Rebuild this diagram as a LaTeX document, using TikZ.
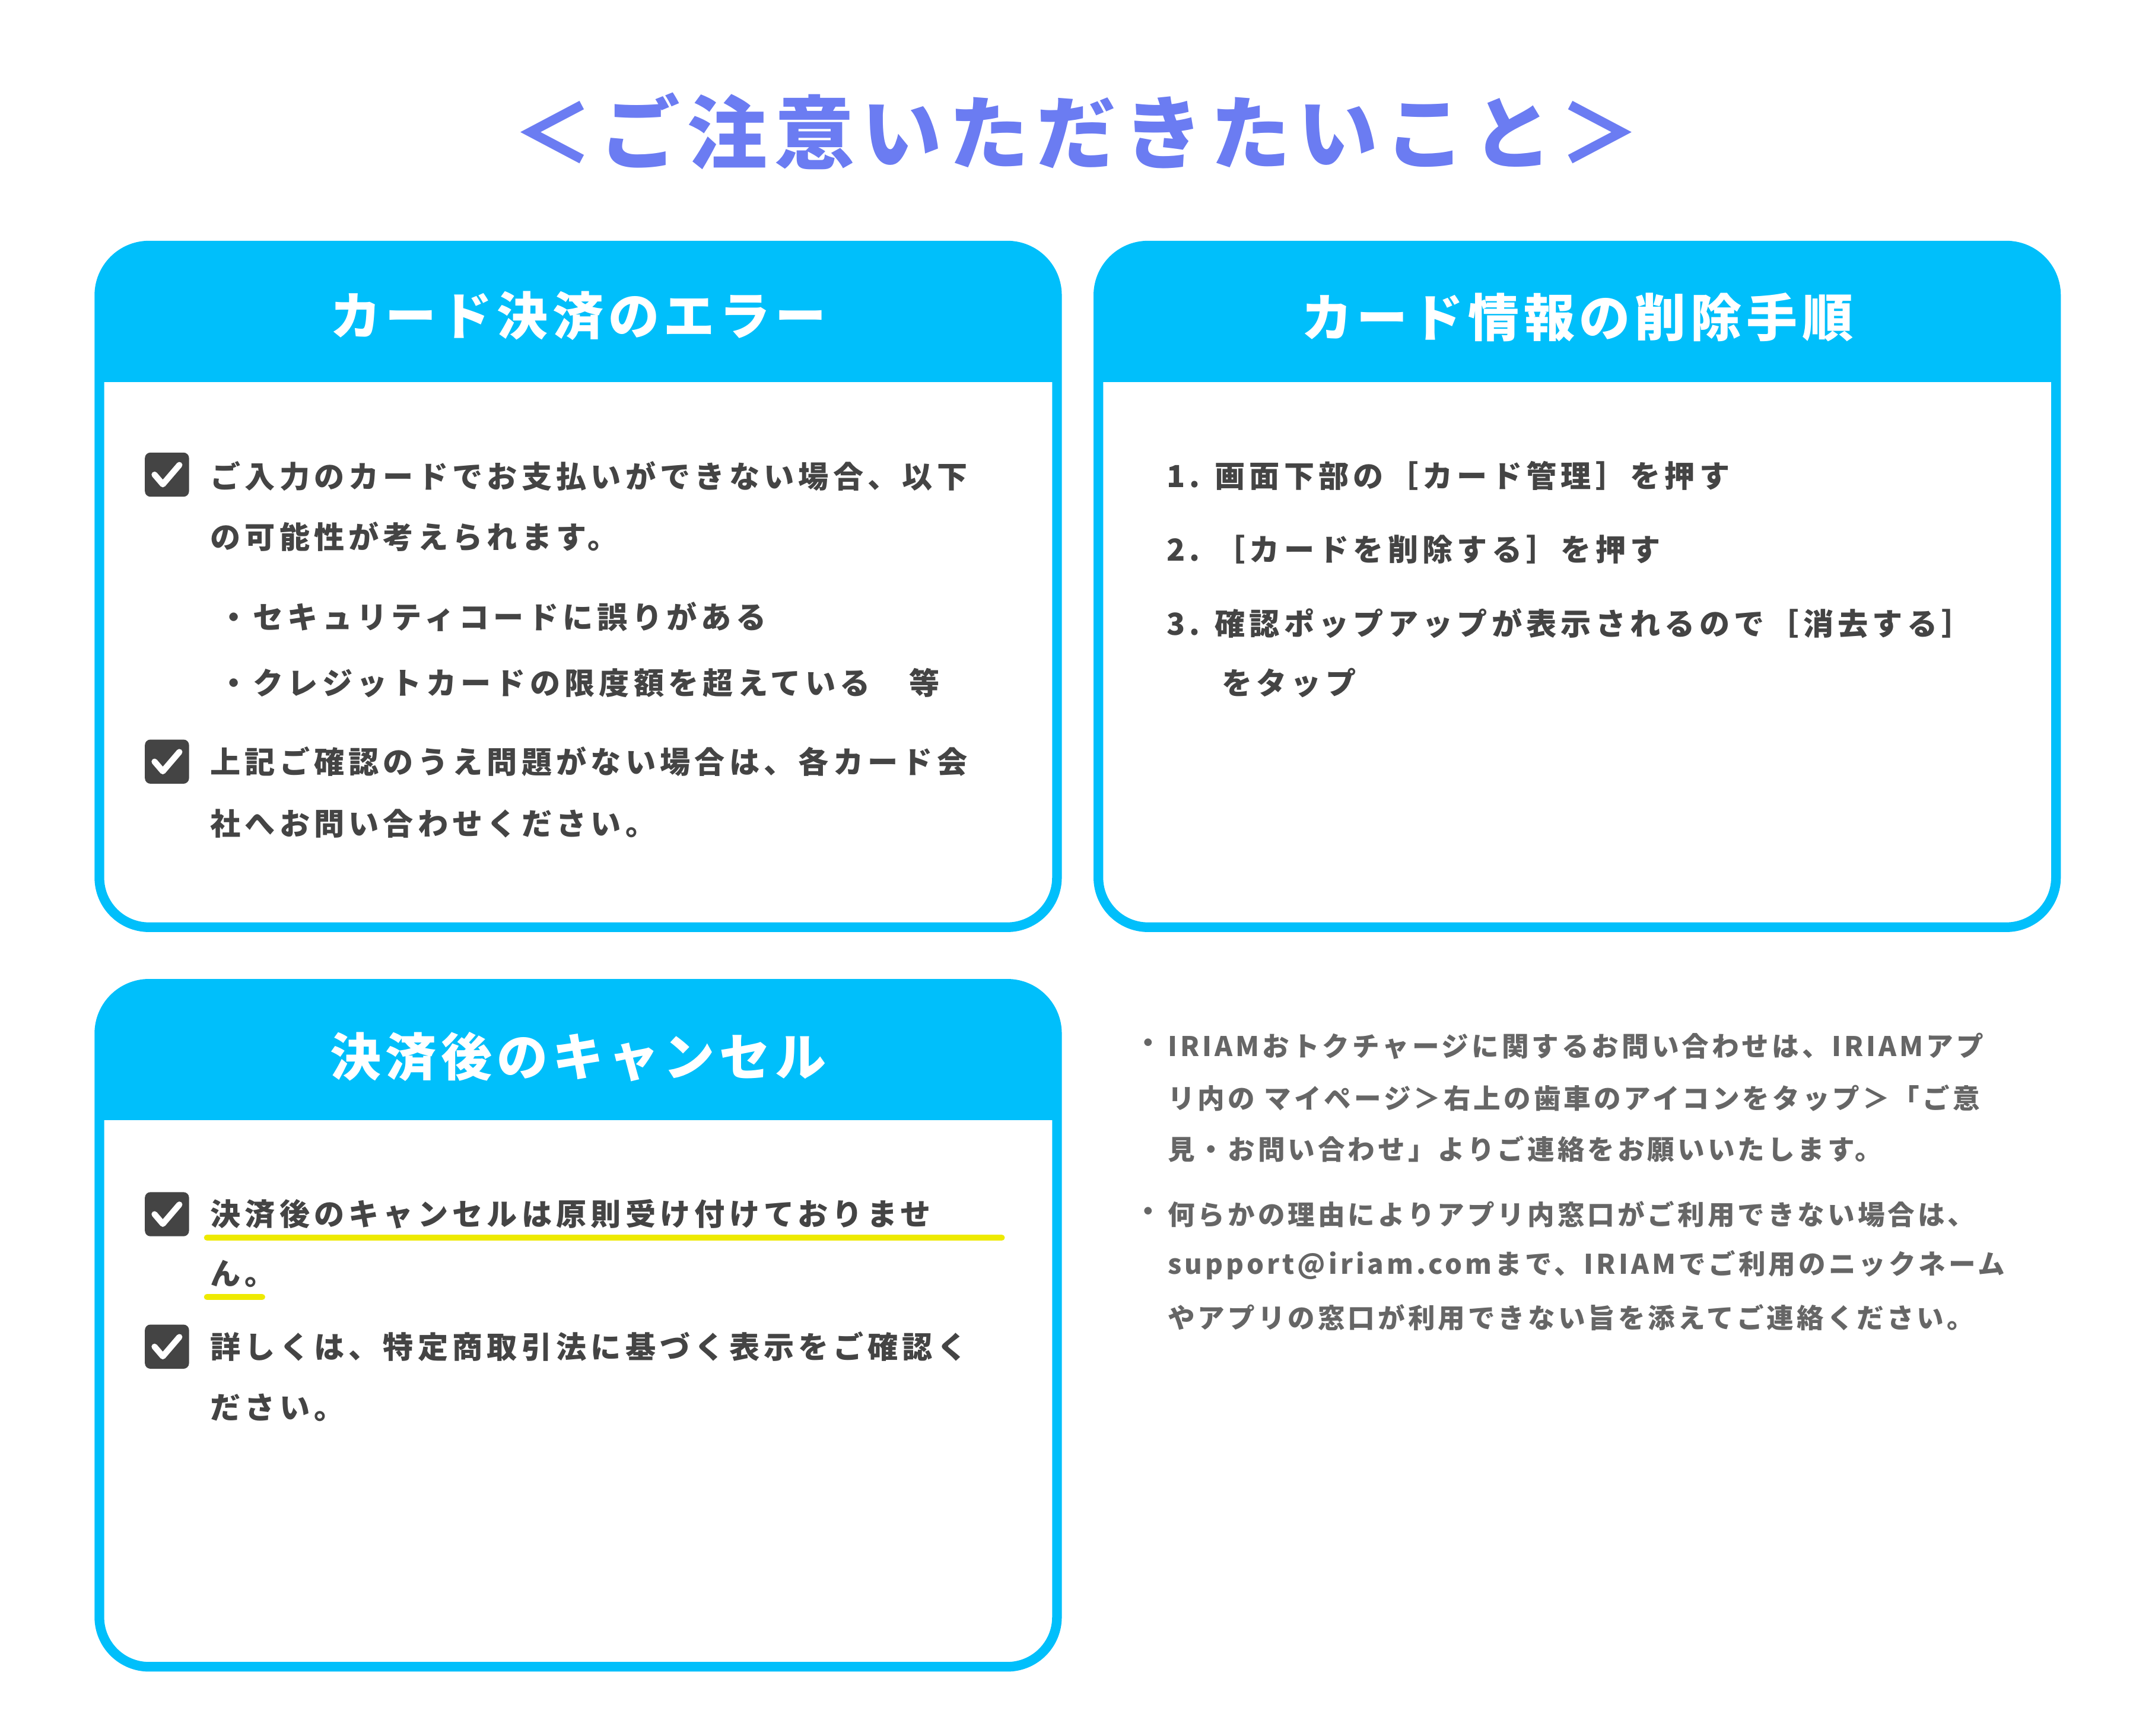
\documentclass[tikz,border=0pt]{standalone}
\usepackage{fontspec}
\newfontfamily\jp{Noto Sans CJK JP}[LetterSpace=14]
\newfontfamily\jph{Noto Sans CJK JP}[LetterSpace=9]
\newfontfamily\jpn{Noto Sans CJK JP}[LetterSpace=11]
\newfontfamily\jpt{Noto Sans CJK JP}[LetterSpace=9]
\definecolor{cy}{HTML}{00BFFB}
\definecolor{tt}{HTML}{6B7CF2}
\definecolor{dk}{HTML}{444444}
\definecolor{gy}{HTML}{666666}
\definecolor{yl}{HTML}{EEEA00}
\begin{document}
\begin{tikzpicture}[x=0.5pt,y=-0.5pt,
  body/.style={anchor=west,inner sep=0pt,text=dk,font=\jp\bfseries\fontsize{11}{13}\selectfont},
  note/.style={anchor=west,inner sep=0pt,text=gy,font=\jpn\bfseries\fontsize{9.8}{12}\selectfont},
  head/.style={inner sep=0pt,text=white,font=\jph\bfseries\fontsize{18.5}{22}\selectfont},
  chk/.style={fill=dk,rounded corners=2pt,minimum size=16pt,inner sep=0pt}]
\useasboundingbox (0,0) rectangle (1548,1258);
\fill[white] (0,0) rectangle (1548,1258);
\node[inner sep=0pt,text=tt,font=\jpt\bfseries\fontsize{29}{34}\selectfont] (title) at (780,95) {＜ご注意いただきたいこと＞};
% boxes
\foreach \n/\xa/\ya/\xb/\yb/\yh in {b1/72/178/766/672/277, b2/796/178/1490/672/277, b3/72/713/766/1208/812}{
  \begin{scope}
    \clip[rounded corners=18pt] (\xa,\ya) rectangle (\xb,\yb);
    \fill[cy] (\xa,\ya) rectangle (\xb,\yh);
  \end{scope}
  \draw[cy,line width=3.5pt,rounded corners=18pt] (\xa,\ya) rectangle (\xb,\yb);
}
\node[head] (h1) at (419,229) {カード決済のエラー};
\node[head] (h2) at (1143,230) {カード情報の削除手順};
\node[head] (h3) at (419,766) {決済後のキャンセル};
% checkboxes
\foreach \n/\y in {c1/344,c2/552,c3/880,c4/976}{
  \node[chk] (\n) at (121,\y) {};
  \draw[white,line width=2.2pt,line cap=round,line join=round] ([shift={(-9,0)}]\n.center) -- ([shift={(-3,7)}]\n.center) -- ([shift={(9,-7)}]\n.center);
}
% box1 text
\node[body] (t1) at (152,345) {ご入力のカードでお支払いができない場合、以下};
\node[body] (t2) at (152,389) {の可能性が考えられます。};
\node[body] (t3) at (158,447) {・セキュリティコードに誤りがある};
\node[body] (t4) at (158,495) {・クレジットカードの限度額を超えている　等};
\node[body] (t5) at (152,552) {上記ご確認のうえ問題がない場合は、各カード会};
\node[body] (t6) at (152,597) {社へお問い合わせください。};
% box2 text
\node[body] (s1) at (845,345) {1. 画面下部の［カード管理］を押す};
\node[body] (s2) at (845,398) {2. ［カードを削除する］を押す};
\node[body] (s3) at (845,452) {3. 確認ポップアップが表示されるので［消去する］};
\node[body] (s4) at (885,495) {をタップ};
% box3 text
\draw[yl,line width=2.2pt,line cap=round] (150,897) -- (726,897);
\draw[yl,line width=2.2pt,line cap=round] (150,940) -- (190,940);
\node[body] (u1) at (152,880) {決済後のキャンセルは原則受け付けておりませ};
\node[body] (u2) at (152,923) {ん。};
\node[body] (u3) at (152,976) {詳しくは、特定商取引法に基づく表示をご確認く};
\node[body] (u4) at (152,1020) {ださい。};
% notes
\node[note] (n0) at (822,758) {・};
\node[note] (n1) at (846,758) {IRIAMおトクチャージに関するお問い合わせは、IRIAMアプ};
\node[note] (n2) at (846,796) {リ内の マイページ＞右上の歯車のアイコンをタップ＞「ご意};
\node[note] (n3) at (846,833) {見・お問い合わせ」よりご連絡をお願いいたします。};
\node[note] (m0) at (822,880) {・};
\node[note] (m1) at (846,880) {何らかの理由によりアプリ内窓口がご利用できない場合は、};
\node[note] (m2) at (846,917) {support@iriam.comまで、IRIAMでご利用のニックネーム};
\node[note] (m3) at (846,955) {やアプリの窓口が利用できない旨を添えてご連絡ください。};
\end{tikzpicture}
\end{document}
